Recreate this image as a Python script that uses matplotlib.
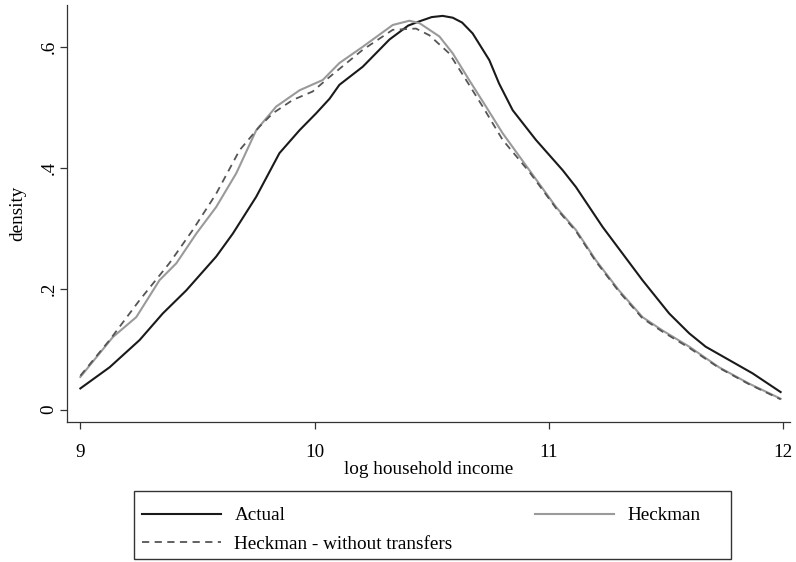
import matplotlib.pyplot as plt
from matplotlib.patches import Rectangle

# density curves
x_actual = [9.0, 9.125, 9.253, 9.352, 9.452, 9.58, 9.651, 9.751, 9.85, 9.936, 10.007, 10.064,
            10.106, 10.206, 10.32, 10.40, 10.448, 10.50, 10.547, 10.59, 10.63, 10.675, 10.746,
            10.788, 10.846, 10.945, 11.059, 11.116, 11.23, 11.315, 11.40, 11.514, 11.6, 11.67,
            11.77, 11.87, 11.99]
y_actual = [0.035, 0.070, 0.115, 0.159, 0.197, 0.253, 0.291, 0.352, 0.424, 0.462, 0.490, 0.514,
            0.537, 0.567, 0.612, 0.635, 0.642, 0.649, 0.651, 0.648, 0.640, 0.622, 0.578,
            0.539, 0.495, 0.446, 0.396, 0.368, 0.302, 0.258, 0.214, 0.159, 0.126, 0.104,
            0.082, 0.060, 0.029]

x_heck = [9.0, 9.139, 9.239, 9.338, 9.41, 9.495, 9.58, 9.666, 9.751, 9.836, 9.936, 10.035,
          10.106, 10.206, 10.334, 10.405, 10.448, 10.533, 10.59, 10.66, 10.732, 10.803, 10.917,
          11.031, 11.116, 11.201, 11.30, 11.40, 11.485, 11.6, 11.727, 11.855, 11.99]
y_heck = [0.054, 0.120, 0.153, 0.214, 0.242, 0.291, 0.335, 0.391, 0.462, 0.501, 0.528, 0.545,
          0.573, 0.600, 0.636, 0.643, 0.639, 0.617, 0.589, 0.545, 0.501, 0.457, 0.396,
          0.335, 0.297, 0.247, 0.197, 0.153, 0.131, 0.104, 0.070, 0.043, 0.018]

x_notr = [9.0, 9.125, 9.253, 9.38, 9.48, 9.58, 9.68, 9.765, 9.822, 9.907, 9.992, 10.064,
          10.206, 10.334, 10.433, 10.49, 10.575, 10.647, 10.718, 10.803, 10.917, 11.031,
          11.116, 11.201, 11.30, 11.40, 11.485, 11.6, 11.727, 11.855, 11.99]
y_notr = [0.056, 0.115, 0.181, 0.242, 0.297, 0.357, 0.429, 0.468, 0.490, 0.512, 0.526, 0.550,
          0.595, 0.628, 0.630, 0.619, 0.589, 0.545, 0.501, 0.446, 0.393,
          0.333, 0.295, 0.245, 0.195, 0.151, 0.129, 0.102, 0.069, 0.042, 0.017]

xticks = [9, 10, 11, 12]
yticks = [0, 0.2, 0.4, 0.6]
ytick_labels = ["0", ".2", ".4", ".6"]

plt.rcParams['font.family'] = ['Liberation Serif', 'DejaVu Serif']
fs = 13.8

W, H = 796, 562
fig = plt.figure(figsize=(W / 100, H / 100), dpi=100)
ax = fig.add_axes([67 / W, 1 - 422 / H, (790 - 67) / W, (422 - 5) / H])

l1, = ax.plot(x_actual, y_actual, color='#1a1a1a', lw=1.5, label='Actual')
l2, = ax.plot(x_heck, y_heck, color='#9a9a9a', lw=1.5, label='Heckman')
l3, = ax.plot(x_notr, y_notr, color='#555555', lw=1.3, ls=(0, (4, 3)),
              label='Heckman - without transfers')

ax.set_xlim(8.943, 12.03)
ax.set_ylim(-0.0205, 0.669)
ax.set_xticks(xticks)
ax.set_xticklabels([str(t) for t in xticks])
ax.set_yticks(yticks)
ax.set_yticklabels(ytick_labels, rotation=90, va='center')
ax.tick_params(direction='out', length=5, width=0.9, colors='#333333', labelsize=fs,
               labelcolor='black')
ax.tick_params(axis='x', pad=11)
ax.tick_params(axis='y', pad=2)
for s in ['top', 'right']:
    ax.spines[s].set_visible(False)
for s in ['left', 'bottom']:
    ax.spines[s].set_color('#333333')
    ax.spines[s].set_linewidth(0.9)

ax.set_xlabel('log household income', fontsize=fs, labelpad=0)
ax.set_ylabel('density', fontsize=fs, labelpad=10)

# legend: entries without frame, box drawn separately
leg = fig.legend([l1, l3, l2], ['Actual', 'Heckman - without transfers', 'Heckman'],
                 ncol=2, loc='center left',
                 bbox_to_anchor=(142 / W, 1 - 530 / H),
                 frameon=False, fontsize=fs, handlelength=4.1, handletextpad=0.72,
                 borderpad=0, borderaxespad=0, labelspacing=0.6, columnspacing=4.3)
fig.patches.append(Rectangle((134 / W, 1 - 559 / H), (731 - 134) / W, (559 - 491) / H,
                             transform=fig.transFigure, fill=False,
                             edgecolor='#333333', lw=1.0))

fig.savefig('out.png', dpi=100)
